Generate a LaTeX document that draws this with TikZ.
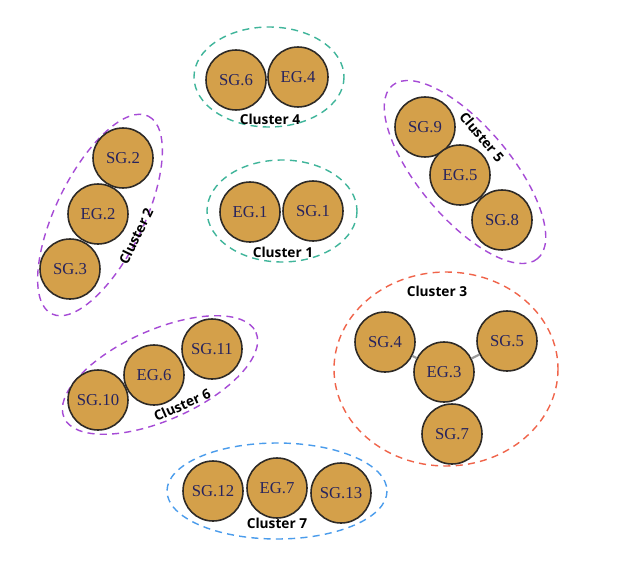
\documentclass[tikz,border=0pt]{standalone}
\usepackage{fontspec}
\setmainfont{Liberation Serif}
\newfontfamily\lblfont{Open Sans}
\usetikzlibrary{positioning}
\definecolor{gold}{HTML}{D4A04A}
\definecolor{navy}{HTML}{26235E}
\definecolor{rim}{HTML}{2E2A26}
\definecolor{mint}{HTML}{3FB59A}
\definecolor{violet}{HTML}{A64BD6}
\definecolor{coral}{HTML}{F0644A}
\definecolor{azure}{HTML}{4A9CEC}
\definecolor{link}{HTML}{9A9A9A}

\begin{document}
\begin{tikzpicture}[x=0.02cm,y=-0.02cm,
    gnode/.style={circle,draw=rim,line width=0.9pt,fill=gold,minimum size=1.2cm,inner sep=0pt,
      text=navy,font=\fontsize{9.5}{11}\selectfont},
    ring/.style={dashed,line width=0.8pt,dash pattern=on 4pt off 3pt},
    clbl/.style={font=\lblfont\bfseries\fontsize{7.8}{9}\selectfont,text=black,inner sep=1pt}]
    \useasboundingbox[fill=white] (0,0) rectangle (618,581);

    % cluster 4
    \draw[ring,mint] (269,77) ellipse [x radius=75,y radius=50];
    \node[gnode] (sg6) at (236,80) {SG.6};
    \node[gnode] (eg4) at (298,77) {EG.4};
    \node[clbl] (c4) at (270,119) {Cluster 4};

    % cluster 1
    \draw[ring,mint] (282,211) ellipse [x radius=75,y radius=51];
    \node[gnode] (eg1) at (250,212) {EG.1};
    \node[gnode] (sg1) at (313,211) {SG.1};
    \node[clbl] (c1) at (283,252) {Cluster 1};

    % cluster 2
    \draw[ring,violet,rotate around={64:(100,215)}] (100,215) ellipse [x radius=110,y radius=44];
    \node[gnode] (sg2) at (123,158) {SG.2};
    \node[gnode] (eg2) at (98,214) {EG.2};
    \node[gnode] (sg3) at (70,269) {SG.3};
    \node[clbl,rotate=64] (c2) at (136,236) {Cluster 2};

    % cluster 5
    \draw[ring,violet,rotate around={-50:(465,172)}] (465,172) ellipse [x radius=113,y radius=46];
    \node[gnode] (sg9) at (425,127) {SG.9};
    \node[gnode] (eg5) at (460,175) {EG.5};
    \node[gnode] (sg8) at (502,220) {SG.8};
    \node[clbl,rotate=-50] (c5) at (482,137) {Cluster 5};

    % cluster 3
    \draw[ring,coral] (446,369) ellipse [x radius=112,y radius=97];
    \node[gnode] (sg4) at (385,342) {SG.4};
    \node[gnode] (sg5) at (507,341) {SG.5};
    \node[gnode] (eg3) at (444,372) {EG.3};
    \node[gnode] (sg7) at (452,434) {SG.7};
    \node[clbl] (c3) at (437,291) {Cluster 3};
    \foreach \s in {sg4,sg5,sg7}
      \draw[link,line width=1.2pt] (eg3) -- (\s);

    % cluster 6
    \draw[ring,violet,rotate around={24:(160,375)}] (160,375) ellipse [x radius=105,y radius=45];
    \node[gnode] (sg10) at (98,400) {SG.10};
    \node[gnode] (eg6) at (154,375) {EG.6};
    \node[gnode] (sg11) at (212,349) {SG.11};
    \node[clbl,rotate=24] (c6) at (182,405) {Cluster 6};

    % cluster 7
    \draw[ring,azure] (277,491) ellipse [x radius=110,y radius=48];
    \node[gnode] (sg12) at (213,491) {SG.12};
    \node[gnode] (eg7) at (277,488) {EG.7};
    \node[gnode] (sg13) at (341,493) {SG.13};
    \node[clbl] (c7) at (277,523) {Cluster 7};
  \end{tikzpicture}
\end{document}
